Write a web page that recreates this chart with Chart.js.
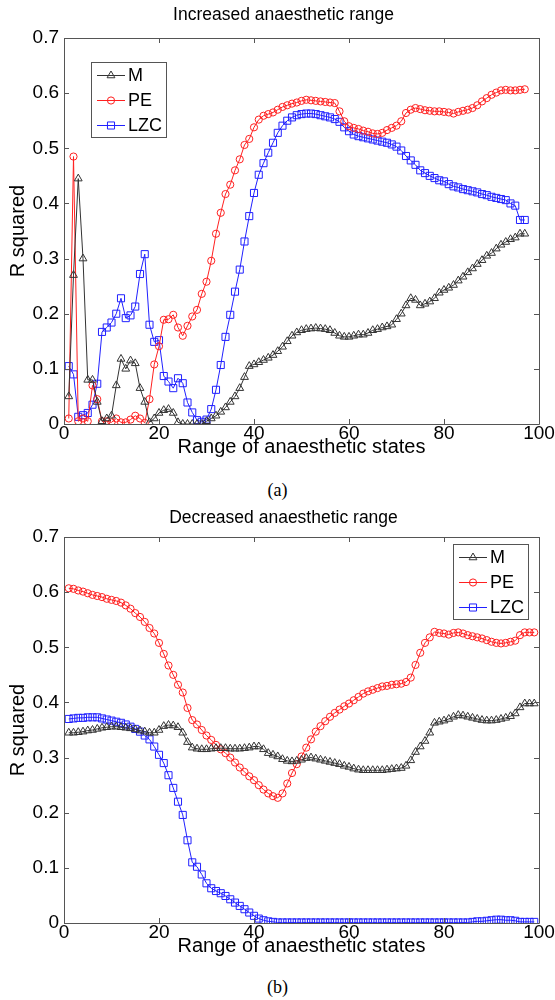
<!DOCTYPE html>
<html>
<head>
<meta charset="utf-8">
<script src="https://cdn.jsdelivr.net/npm/chart.js@4/dist/chart.umd.min.js"></script>
<style>
  body { margin: 0; background: #fff; width: 555px; height: 1000px; position: relative; overflow: hidden; }
  canvas { position: absolute; left: 0; }
  #cvTop { top: 0; }
  #cvBottom { top: 499px; }
  .caption { position: absolute; left: 0; width: 555px; text-align: center; font-family: "Liberation Serif", serif; font-size: 18px; color: #000; line-height: 20px; }
</style>
</head>
<body>
<canvas id="cvTop" width="555" height="470"></canvas>
<div class="caption" style="top:480px">(a)</div>
<canvas id="cvBottom" width="555" height="470"></canvas>
<div class="caption" style="top:977px">(b)</div>
<script>
// データ
const stepsTop = [1,2,3,4,5,6,7,8,9,10,11,12,13,14,15,16,17,18,19,20,21,22,23,24,25,26,27,28,29,30,31,32,33,34,35,36,37,38,39,40,41,42,43,44,45,46,47,48,49,50,51,52,53,54,55,56,57,58,59,60,61,62,63,64,65,66,67,68,69,70,71,72,73,74,75,76,77,78,79,80,81,82,83,84,85,86,87,88,89,90,91,92,93,94,95,96,97];
const stepsBottom = [1,2,3,4,5,6,7,8,9,10,11,12,13,14,15,16,17,18,19,20,21,22,23,24,25,26,27,28,29,30,31,32,33,34,35,36,37,38,39,40,41,42,43,44,45,46,47,48,49,50,51,52,53,54,55,56,57,58,59,60,61,62,63,64,65,66,67,68,69,70,71,72,73,74,75,76,77,78,79,80,81,82,83,84,85,86,87,88,89,90,91,92,93,94,95,96,97,98,99];

const mIncreased = [0.05,0.27,0.445,0.30,0.08,0.08,0.04,0.005,0.01,0.015,0.07,0.118,0.10,0.115,0.11,0.065,0.04,0.003,0.01,0.02,0.025,0.027,0.02,0.003,0,0,0,0,0,0.005,0.01,0.015,0.022,0.03,0.04,0.05,0.065,0.085,0.105,0.108,0.112,0.116,0.12,0.125,0.132,0.14,0.15,0.16,0.166,0.17,0.172,0.173,0.174,0.173,0.172,0.17,0.165,0.16,0.158,0.158,0.16,0.162,0.162,0.165,0.17,0.172,0.175,0.177,0.18,0.19,0.2,0.215,0.228,0.225,0.215,0.218,0.222,0.228,0.238,0.243,0.247,0.252,0.26,0.267,0.275,0.282,0.29,0.297,0.305,0.31,0.318,0.325,0.33,0.335,0.338,0.345,0.345];
const peIncreased = [0.01,0.485,0.005,0.01,0.005,0.07,0.045,0.005,0.005,0.003,0.01,0.003,0.003,0.008,0.015,0.01,0.002,0.045,0.108,0.141,0.189,0.19,0.198,0.175,0.16,0.178,0.195,0.207,0.236,0.258,0.296,0.345,0.383,0.417,0.434,0.46,0.48,0.506,0.517,0.538,0.552,0.559,0.562,0.565,0.57,0.575,0.578,0.581,0.583,0.586,0.588,0.587,0.586,0.585,0.584,0.583,0.582,0.567,0.549,0.54,0.537,0.535,0.532,0.53,0.527,0.526,0.528,0.533,0.537,0.541,0.549,0.564,0.57,0.573,0.571,0.569,0.568,0.567,0.567,0.566,0.565,0.563,0.566,0.568,0.57,0.573,0.578,0.585,0.591,0.597,0.601,0.605,0.606,0.605,0.605,0.606,0.607];
const lzcIncreased = [0.105,0.09,0.013,0.016,0.02,0.035,0.073,0.167,0.175,0.184,0.2,0.228,0.192,0.197,0.213,0.272,0.308,0.18,0.149,0.152,0.087,0.077,0.065,0.083,0.074,0.039,0.021,0.007,0.004,0.008,0.027,0.062,0.107,0.158,0.198,0.24,0.28,0.331,0.377,0.419,0.452,0.473,0.492,0.51,0.528,0.541,0.55,0.556,0.56,0.562,0.563,0.563,0.562,0.56,0.558,0.556,0.553,0.548,0.538,0.531,0.525,0.522,0.52,0.518,0.516,0.514,0.512,0.51,0.507,0.503,0.496,0.486,0.478,0.47,0.46,0.455,0.45,0.446,0.442,0.44,0.435,0.431,0.429,0.426,0.424,0.422,0.42,0.417,0.415,0.412,0.41,0.408,0.406,0.4,0.396,0.37,0.37];

const mDecreased = [0.345,0.345,0.346,0.347,0.349,0.35,0.352,0.354,0.355,0.356,0.356,0.355,0.354,0.353,0.351,0.349,0.347,0.345,0.345,0.35,0.357,0.359,0.358,0.355,0.345,0.328,0.318,0.316,0.315,0.315,0.316,0.317,0.317,0.317,0.316,0.316,0.316,0.317,0.318,0.32,0.32,0.315,0.308,0.305,0.302,0.297,0.294,0.293,0.294,0.296,0.299,0.3,0.298,0.296,0.294,0.292,0.29,0.288,0.285,0.283,0.28,0.278,0.277,0.277,0.277,0.277,0.277,0.278,0.279,0.28,0.281,0.285,0.295,0.31,0.32,0.33,0.345,0.363,0.365,0.367,0.37,0.374,0.377,0.376,0.374,0.372,0.37,0.368,0.367,0.367,0.368,0.37,0.372,0.375,0.38,0.391,0.398,0.398,0.398];
const peDecreased = [0.607,0.606,0.603,0.601,0.598,0.595,0.593,0.591,0.588,0.586,0.584,0.581,0.576,0.57,0.562,0.555,0.546,0.535,0.525,0.508,0.488,0.467,0.45,0.432,0.418,0.39,0.368,0.36,0.35,0.34,0.332,0.323,0.315,0.308,0.3,0.291,0.282,0.274,0.266,0.259,0.25,0.242,0.235,0.23,0.227,0.235,0.253,0.272,0.288,0.302,0.318,0.333,0.347,0.357,0.366,0.374,0.381,0.387,0.393,0.398,0.404,0.41,0.416,0.42,0.423,0.426,0.429,0.43,0.432,0.433,0.434,0.437,0.445,0.468,0.49,0.508,0.518,0.528,0.526,0.525,0.523,0.526,0.527,0.525,0.522,0.52,0.518,0.516,0.513,0.51,0.508,0.507,0.508,0.51,0.512,0.522,0.527,0.527,0.527];
const lzcDecreased = [0.37,0.371,0.372,0.372,0.373,0.373,0.373,0.371,0.369,0.367,0.365,0.363,0.36,0.356,0.352,0.347,0.34,0.333,0.32,0.305,0.29,0.268,0.245,0.22,0.196,0.15,0.11,0.102,0.088,0.072,0.063,0.058,0.054,0.049,0.043,0.037,0.031,0.025,0.019,0.013,0.008,0.005,0.003,0.002,0.001,0.001,0.001,0.001,0.001,0.001,0.001,0.001,0.001,0.001,0.001,0.001,0.001,0.001,0.001,0.001,0.001,0.001,0.001,0.001,0.001,0.001,0.001,0.001,0.001,0.001,0.001,0.001,0.001,0.001,0.001,0.001,0.001,0.001,0.001,0.001,0.001,0.001,0.001,0.001,0.001,0.002,0.003,0.003,0.004,0.005,0.006,0.006,0.005,0.005,0.004,0.002,0.002,0.002,0.002];

const seriesLabels = ["M", "PE", "LZC"];
const xTickStep = 20;
const yTickStep = 0.1;

const FONT = "'Liberation Sans', Arial, sans-serif";
const FRAME = "#555";

// MATLAB風の枠と内向きの目盛り
const matlabAxes = {
  id: "matlabAxes",
  afterDatasetsDraw(chart) {
    const { ctx, chartArea: a, scales } = chart;
    ctx.save();
    ctx.strokeStyle = FRAME;
    ctx.lineWidth = 1;
    ctx.beginPath();
    ctx.rect(Math.round(a.left) + 0.5, Math.round(a.top) + 0.5, Math.round(a.right - a.left), Math.round(a.bottom - a.top));
    ctx.stroke();
    ctx.beginPath();
    scales.x.ticks.forEach((t) => {
      const x = Math.round(scales.x.getPixelForValue(t.value)) + 0.5;
      ctx.moveTo(x, a.bottom); ctx.lineTo(x, a.bottom - 5);
      ctx.moveTo(x, a.top); ctx.lineTo(x, a.top + 5);
    });
    scales.y.ticks.forEach((t) => {
      const y = Math.round(scales.y.getPixelForValue(t.value)) + 0.5;
      ctx.moveTo(a.left, y); ctx.lineTo(a.left + 5, y);
      ctx.moveTo(a.right, y); ctx.lineTo(a.right - 5, y);
    });
    ctx.stroke();
    ctx.restore();
  },
};

// 枠付き凡例
const boxLegend = {
  id: "boxLegend",
  afterDraw(chart, args, opts) {
    const { ctx, chartArea: a } = chart;
    const w = 75, rowH = 25;
    const h = rowH * chart.data.datasets.length;
    const x0 = opts.corner === "right" ? a.right - opts.dx - w : a.left + opts.dx;
    const y0 = a.top + opts.dy;
    ctx.save();
    ctx.fillStyle = "#fff";
    ctx.fillRect(x0, y0, w, h);
    ctx.strokeStyle = FRAME;
    ctx.lineWidth = 1;
    ctx.strokeRect(Math.round(x0) + 0.5, Math.round(y0) + 0.5, w, h);
    chart.data.datasets.forEach((ds, i) => {
      const cy = Math.round(y0 + rowH * i + rowH / 2) + 0.5;
      ctx.strokeStyle = ds.borderColor;
      ctx.beginPath();
      ctx.moveTo(x0 + 6, cy); ctx.lineTo(x0 + 34, cy);
      ctx.stroke();
      ctx.fillStyle = "rgba(0,0,0,0)";
      ctx.strokeStyle = ds.pointBorderColor;
      Chart.helpers.drawPoint(ctx, { pointStyle: ds.pointStyle, radius: ds.pointRadius, rotation: 0, borderWidth: 1 }, x0 + 20, cy);
      ctx.fillStyle = "#000";
      ctx.font = "18px " + FONT;
      ctx.textBaseline = "middle";
      ctx.fillText(ds.label, x0 + 37, cy + 1);
    });
    ctx.restore();
  },
};

function makeSeries(steps, values) {
  return steps.map((s, i) => ({ x: s, y: values[i] }));
}

function makeChart(id, titleText, titlePad, data, legendOpts) {
  const styles = [
    { color: "#333", marker: "triangle", r: 4.5 },
    { color: "#ff2020", marker: "circle", r: 3.6 },
    { color: "#2020ff", marker: "rect", r: 5 },
  ];
  return new Chart(document.getElementById(id), {
    type: "line",
    data: {
      datasets: data.map((d, i) => ({
        label: seriesLabels[i],
        data: d,
        borderColor: styles[i].color,
        borderWidth: 1,
        pointStyle: styles[i].marker,
        pointRadius: styles[i].r,
        pointBorderColor: styles[i].color,
        pointBorderWidth: 1,
        pointBackgroundColor: "rgba(0,0,0,0)",
        tension: 0,
        fill: false,
      })),
    },
    options: {
      responsive: false,
      animation: false,
      events: [],
      layout: { padding: { left: 28, right: 16, top: 0, bottom: 11 } },
      plugins: {
        legend: { display: false },
        tooltip: { enabled: false },
        title: {
          display: true,
          text: titleText,
          color: "#000",
          font: { family: FONT, size: 17.5, weight: "normal" },
          padding: titlePad,
        },
        boxLegend: legendOpts,
      },
      scales: {
        x: {
          type: "linear",
          min: 0,
          max: 100,
          ticks: { stepSize: xTickStep, color: "#000", font: { family: FONT, size: 19 }, padding: -2, maxRotation: 0 },
          grid: { display: false, drawTicks: false },
          border: { display: false },
          title: { display: true, text: "Range of anaesthetic states", color: "#000", font: { family: FONT, size: 20 }, padding: 0 },
          afterFit(s) { s.height = 35; },
        },
        y: {
          min: 0,
          max: 0.7,
          ticks: { stepSize: yTickStep, color: "#000", font: { family: FONT, size: 19 }, padding: 5 },
          grid: { display: false, drawTicks: false },
          border: { display: false },
          title: { display: true, text: "R squared", color: "#000", font: { family: FONT, size: 20 }, padding: { top: -22, bottom: 0 } },
          afterFit(s) { s.width = 36; },
        },
      },
    },
    plugins: [matlabAxes, boxLegend],
  });
}

makeChart("cvTop", "Increased anaesthetic range", { top: 4.5, bottom: 12.5 },
  [makeSeries(stepsTop, mIncreased), makeSeries(stepsTop, peIncreased), makeSeries(stepsTop, lzcIncreased)],
  { corner: "left", dx: 27, dy: 24 });
makeChart("cvBottom", "Decreased anaesthetic range", { top: 8.5, bottom: 8.5 },
  [makeSeries(stepsBottom, mDecreased), makeSeries(stepsBottom, peDecreased), makeSeries(stepsBottom, lzcDecreased)],
  { corner: "right", dx: 11, dy: 7 });
</script>
</body>
</html>
